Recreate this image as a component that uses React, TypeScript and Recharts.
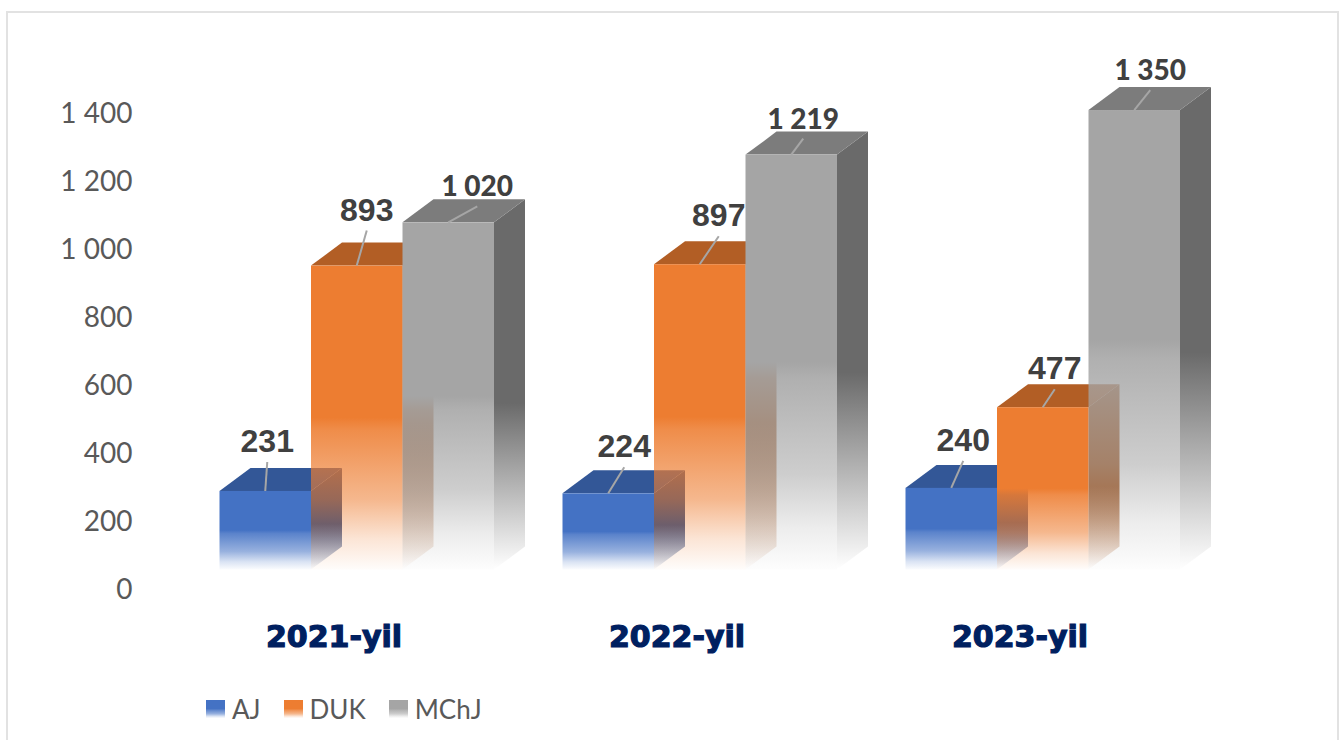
import { BarChart, Bar, XAxis, YAxis, Legend, LabelList } from 'recharts';

const categories = ['2021-yil', '2022-yil', '2023-yil'];
const seriesNames = ['AJ', 'DUK', 'MChJ'];
const ajValues = [231, 224, 240];
const dukValues = [893, 897, 477];
const mchjValues = [1020, 1219, 1350];
const yTicks = [0, 200, 400, 600, 800, 1000, 1200, 1400];

const data = categories.map((name, i) => ({
  name,
  AJ: ajValues[i],
  DUK: dukValues[i],
  MChJ: mchjValues[i],
}));

const frontColors = ['#4472c4', '#ed7d31', '#a5a5a5'];
const sideColors = ['#2f4f88', '#a5561f', '#6a6a6a'];
const topColors = ['#335797', '#b25e25', '#7c7c7c'];

// how far each value label sits from the middle of its bar, by category
const labelDx = [
  [2, 16, 12],
  [10, 19, 12],
  [29, 12, 16],
];
const labelDy = [
  [50, 47, 48],
  [56, 49, 39],
  [37, 37, 41],
];

const DEPTH_X = 31;
const DEPTH_Y = 23;
const SANS = 'Lato, sans-serif';
const ARIAL = '"Liberation Sans", Arial, sans-serif';

function formatNumber(v: number) {
  return String(v).replace(/\B(?=(\d{3})+$)/g, ' ');
}

function FrontGradient({ id, color }: { id: string; color: string }) {
  return (
    <linearGradient id={id} x1="0" y1="0" x2="0" y2="1">
      <stop offset="0%" stopColor={color} stopOpacity={1} />
      <stop offset="50%" stopColor={color} stopOpacity={1} />
      <stop offset="54%" stopColor={color} stopOpacity={0.88} />
      <stop offset="77%" stopColor={color} stopOpacity={0.55} />
      <stop offset="90%" stopColor={color} stopOpacity={0.2} />
      <stop offset="100%" stopColor={color} stopOpacity={0.02} />
    </linearGradient>
  );
}

function SideGradient({ id, color }: { id: string; color: string }) {
  return (
    <linearGradient id={id} x1="0" y1="0" x2="0" y2="1">
      <stop offset="0%" stopColor={color} stopOpacity={1} />
      <stop offset="55%" stopColor={color} stopOpacity={1} />
      <stop offset="100%" stopColor={color} stopOpacity={0} />
    </linearGradient>
  );
}

function Box3D({ x, y, width, height, seriesIndex }: any) {
  const base = y + height;
  const right = x + width;
  return (
    <g>
      <path
        d={`M${right},${y} L${right + DEPTH_X},${y - DEPTH_Y} L${right + DEPTH_X},${base - DEPTH_Y} L${right},${base} Z`}
        fill={`url(#side-${seriesIndex})`}
      />
      <path
        d={`M${x},${y} L${x + DEPTH_X},${y - DEPTH_Y} L${right + DEPTH_X},${y - DEPTH_Y} L${right},${y} Z`}
        fill={topColors[seriesIndex]}
      />
      <rect x={x} y={y} width={width} height={height} fill={`url(#front-${seriesIndex})`} />
    </g>
  );
}

function ValueLabel({ x, y, width, value, index, seriesIndex }: any) {
  const cx = x + width / 2;
  const textX = cx + labelDx[seriesIndex][index];
  const textY = y - labelDy[seriesIndex][index];
  const big = value >= 1000;
  return (
    <g>
      <line x1={cx} y1={y} x2={textX} y2={textY + 21} stroke="#a6a6a6" strokeWidth={2} />
      <text
        x={textX}
        y={textY}
        textAnchor="middle"
        dominantBaseline="central"
        fontFamily={big ? SANS : ARIAL}
        fontWeight={big ? 900 : 700}
        fontSize={big ? 28 : 32}
        fill="#404040"
      >
        {formatNumber(value)}
      </text>
    </g>
  );
}

function YTick({ x, y, payload }: any) {
  return (
    <text x={x} y={y + 18.6} textAnchor="end" dominantBaseline="central" fontFamily={SANS} fontSize={28} fill="#595959">
      {formatNumber(payload.value)}
    </text>
  );
}

function XTick({ x, y, payload }: any) {
  return (
    <text
      x={x - 23}
      y={y + 77.5}
      textAnchor="middle"
      fontFamily='"DejaVu Sans", sans-serif'
      fontWeight={700}
      fontSize={30}
      fill="#002060"
      stroke="#002060"
      strokeWidth={1.2}
    >
      {payload.value}
    </text>
  );
}

function LegendRow({ payload }: any) {
  return (
    <div style={{ display: 'flex', alignItems: 'center', gap: 23 }}>
      {(payload || []).map((entry: any, i: number) => (
        <span key={entry.value} style={{ display: 'flex', alignItems: 'center', gap: 7 }}>
          <svg width={19} height={18}>
            <rect width={19} height={18} fill={`url(#front-${i})`} />
          </svg>
          <span style={{ fontFamily: SANS, fontSize: 26, color: '#595959', lineHeight: '30px' }}>{entry.value}</span>
        </span>
      ))}
    </div>
  );
}

export default function App() {
  return (
    <div style={{ position: 'absolute', left: 0, top: 0, width: 1342, height: 740, overflow: 'hidden', background: '#fff' }}>
      <div style={{ position: 'absolute', left: 6, top: 11, width: 1329, height: 800, border: '2px solid #e2e2e2' }} />
      <div style={{ position: 'absolute', left: 0, top: 0 }}>
        <BarChart
          width={1342}
          height={740}
          data={data}
          margin={{ top: 93, right: 127.5, bottom: 70.4, left: 85.5 }}
          barGap={0}
        >
          <defs>
            {seriesNames.map((_, i) => (
              <FrontGradient key={`front-${i}`} id={`front-${i}`} color={frontColors[i]} />
            ))}
            {seriesNames.map((_, i) => (
              <SideGradient key={`side-${i}`} id={`side-${i}`} color={sideColors[i]} />
            ))}
          </defs>
          <XAxis dataKey="name" height={100} axisLine={false} tickLine={false} tick={<XTick />} tickMargin={0} tickSize={0} interval={0} />
          <YAxis
            width={100}
            domain={[0, 1400]}
            ticks={yTicks}
            axisLine={false}
            tickLine={false}
            tickSize={0}
            tickMargin={53}
            tick={<YTick />}
            interval={0}
          />
          <Legend
            layout="horizontal"
            align="center"
            verticalAlign="middle"
            wrapperStyle={{ left: 206, top: 694, width: 'auto' }}
            content={<LegendRow />}
          />
          {seriesNames.map((name, i) => (
            <Bar
              key={name}
              dataKey={name}
              name={name}
              fill={frontColors[i]}
              barSize={91.5}
              isAnimationActive={false}
              shape={(props: any) => <Box3D {...props} seriesIndex={i} />}
            >
              <LabelList dataKey={name} content={(props: any) => <ValueLabel {...props} seriesIndex={i} />} />
            </Bar>
          ))}
        </BarChart>
      </div>
    </div>
  );
}
